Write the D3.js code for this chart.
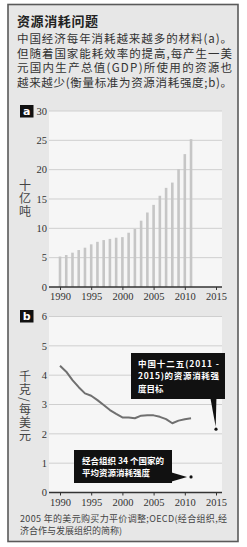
<!DOCTYPE html>
<html lang="zh">
  <head>
    <meta charset="UTF-8" />
    <title>资源消耗问题</title>
    <style>
      body { margin: 0; background: #fff; }
      svg { display: block; }
      .cjk { font-family: "Noto Sans CJK SC", sans-serif; }
      .num { font-family: "Liberation Serif", serif; }
      .vert { writing-mode: vertical-rl; }
    </style>
  </head>
  <body>
    <div id="chart"></div>
    <script src="https://cdn.jsdelivr.net/npm/d3@7"></script>
    <script>

      // panel a: materials used, billion tonnes
      var years = d3.range(1990, 2012);
      var materials = [5.2, 5.45, 5.85, 6.3, 6.7, 7.27, 7.7, 8.0, 8.2, 8.4, 8.5,
                       9.25, 9.9, 11.3, 12.7, 14.0, 15.55, 16.9, 17.8, 20.1, 22.65, 25.2];
      // panel b: material intensity, kg per dollar
      var intensity = [4.32, 4.12, 3.83, 3.59, 3.38, 3.3, 3.15, 2.98, 2.81, 2.68, 2.56,
                       2.56, 2.53, 2.62, 2.63, 2.63, 2.58, 2.5, 2.36, 2.45, 2.5, 2.53];
      var chinaTarget = { year: 2015, value: 2.16 };
      var oecdAvg = { year: 2011, value: 0.53 };

      var xTicks = [1990, 1995, 2000, 2005, 2010, 2015];
      var yTicksA = [0, 5, 10, 15, 20, 25, 30];
      var yTicksB = [0, 1, 2, 3, 4, 5, 6];

      var introLines = ["中国经济每年消耗越来越多的材料(a)。",
                        "但随着国家能耗效率的提高,每产生一美",
                        "元国内生产总值(GDP)所使用的资源也",
                        "越来越少(衡量标准为资源消耗强度;b)。"];
      var chinaNote = ["中国十二五(2011 -", "2015)的资源消耗强", "度目标"];
      var oecdNote = ["经合组织 34 个国家的", "平均资源消耗强度"];
      var footLines = ["2005 年的美元购买力平价调整;OECD(经合组织,经", "济合作与发展组织的简称)"];

      var W = 247, H = 547;
      var svg = d3.select("#chart").append("svg")
                  .attr("width", W)
                  .attr("height", H);

      // frame
      svg.append("rect")
         .attr("x", 8).attr("y", 4.5)
         .attr("width", 230).attr("height", 537)
         .attr("fill", "#e7e7e7")
         .attr("stroke", "#5a5a5a")
         .attr("stroke-width", 1.6);

      svg.append("text")
         .attr("class", "cjk")
         .attr("x", 17).attr("y", 25.5)
         .attr("font-size", 13)
         .attr("font-weight", "bold")
         .attr("letter-spacing", 0.6)
         .attr("fill", "#222")
         .text("资源消耗问题");

      svg.selectAll(".intro")
         .data(introLines)
         .enter()
         .append("text")
         .attr("class", "cjk intro")
         .attr("x", 17)
         .attr("y", function(d, i) { return 43 + i * 14.5; })
         .attr("font-size", 11.5)
         .attr("fill", "#333")
         .attr("textLength", 215)
         .attr("lengthAdjust", "spacing")
         .text(function(d) { return d; });

      var x = d3.scaleLinear().domain([1990, 2015]).range([60, 216]);
      var gx0 = 49, gx1 = 222;

      function panel(y, ticks, label, boxY, title, titleTop) {
        var g = svg.append("g");
        g.append("rect")
         .attr("x", gx0).attr("y", y(ticks[ticks.length - 1]))
         .attr("width", gx1 - gx0)
         .attr("height", y(0) - y(ticks[ticks.length - 1]))
         .attr("fill", "#f6f6f6");

        g.selectAll(".grid")
         .data(ticks.slice(1))
         .enter()
         .append("line")
         .attr("x1", gx0).attr("x2", gx1)
         .attr("y1", function(d) { return y(d); })
         .attr("y2", function(d) { return y(d); })
         .attr("stroke", "#cfcfcf")
         .attr("stroke-width", 1);

        g.selectAll(".ylab")
         .data(ticks)
         .enter()
         .append("text")
         .attr("class", "num")
         .attr("x", 47)
         .attr("y", function(d) { return y(d); })
         .attr("dy", "0.35em")
         .attr("text-anchor", "end")
         .attr("font-size", 10.5)
         .attr("fill", "#333")
         .text(function(d) { return d; });

        g.append("rect")
         .attr("x", 20).attr("y", boxY)
         .attr("width", 13.5).attr("height", 12.5)
         .attr("fill", "#111");
        g.append("text")
         .attr("x", 26.7).attr("y", boxY + 10)
         .attr("text-anchor", "middle")
         .attr("font-family", "DejaVu Sans, sans-serif")
         .attr("font-weight", "bold")
         .attr("font-size", 11)
         .attr("fill", "#fff")
         .text(label);

        // vertical axis title
        g.append("text")
         .attr("class", "cjk vert")
         .attr("x", 25)
         .attr("y", titleTop)
         .attr("font-size", 12)
         .attr("letter-spacing", 1.3)
         .attr("fill", "#444")
         .text(title);

        var axis = g.append("g")
                    .attr("transform", "translate(0," + y(0) + ")")
                    .call(d3.axisBottom(x).tickValues(xTicks).tickSize(3)
                            .tickFormat(d3.format("d")));
        axis.select(".domain").remove();
        axis.append("line")
            .attr("x1", gx0).attr("x2", gx1)
            .attr("stroke", "#333").attr("stroke-width", 1.5);
        axis.selectAll(".tick line").attr("stroke", "#333");
        axis.selectAll(".tick text")
            .attr("class", "num")
            .attr("font-size", 10.5)
            .attr("fill", "#333")
            .attr("y", 6);
        return g;
      }

      // panel a
      var yA = d3.scaleLinear().domain([0, 30]).range([287, 111]);
      var gA = panel(yA, yTicksA, "a", 105, "十亿吨", 179);
      gA.selectAll(".bar")
        .data(materials)
        .enter()
        .insert("rect", "g")
        .attr("class", "bar")
        .attr("x", function(d, i) { return x(years[i]) - 1.3; })
        .attr("y", function(d) { return yA(d); })
        .attr("width", 2.6)
        .attr("height", function(d) { return yA(0) - yA(d); })
        .attr("fill", "#c6c6c6");

      // panel b
      var yB = d3.scaleLinear().domain([0, 6]).range([492.5, 316.5]);
      var gB = panel(yB, yTicksB, "b", 310, "千克/每美元", 370.5);

      var line = d3.line()
                   .x(function(d, i) { return x(years[i]); })
                   .y(function(d) { return yB(d); });
      gB.append("path")
        .datum(intensity)
        .attr("d", line)
        .attr("fill", "none")
        .attr("stroke", "#707070")
        .attr("stroke-width", 2)
        .attr("stroke-linejoin", "round");

      // China target callout
      var cx = x(chinaTarget.year), cy = yB(chinaTarget.value);
      gB.append("path")
        .attr("d", "M" + (cx - 6) + ",396 L" + (cx + 0.5) + ",396 L" + (cx - 0.3) + "," + (cy - 2.5) + " Z")
        .attr("fill", "#111");
      gB.append("rect")
        .attr("x", 131).attr("y", 353)
        .attr("width", 94).attr("height", 46)
        .attr("fill", "#111");
      gB.selectAll(".cnote")
        .data(chinaNote)
        .enter()
        .append("text")
        .attr("class", "cjk")
        .attr("x", 138)
        .attr("y", function(d, i) { return 366.5 + i * 12.5; })
        .attr("font-size", 8.5)
        .attr("font-weight", "bold")
        .attr("fill", "#fff")
        .attr("textLength", function(d, i) { return i < 2 ? 81 : null; })
        .text(function(d) { return d; });
      gB.append("circle")
        .attr("cx", cx).attr("cy", cy).attr("r", 1.6)
        .attr("fill", "#111");

      // OECD callout
      var ox = x(oecdAvg.year), oy = yB(oecdAvg.value);
      gB.append("path")
        .attr("d", "M170,472 L" + (ox - 4) + "," + oy + " L170,482 Z")
        .attr("fill", "#111");
      gB.append("rect")
        .attr("x", 74).attr("y", 450)
        .attr("width", 98).attr("height", 33)
        .attr("fill", "#111");
      gB.selectAll(".onote")
        .data(oecdNote)
        .enter()
        .append("text")
        .attr("class", "cjk")
        .attr("x", 82)
        .attr("y", function(d, i) { return 464 + i * 11.5; })
        .attr("font-size", 8.5)
        .attr("font-weight", "bold")
        .attr("fill", "#fff")
        .text(function(d) { return d; });
      gB.append("circle")
        .attr("cx", ox).attr("cy", oy).attr("r", 1.6)
        .attr("fill", "#111");

      svg.selectAll(".foot")
         .data(footLines)
         .enter()
         .append("text")
         .attr("class", "cjk")
         .attr("x", 20)
         .attr("y", function(d, i) { return 521.5 + i * 12.5; })
         .attr("font-size", 9)
         .attr("fill", "#444")
         .attr("textLength", function(d, i) { return i === 0 ? 207 : null; })
         .text(function(d) { return d; });

    </script>
  </body>
</html>
